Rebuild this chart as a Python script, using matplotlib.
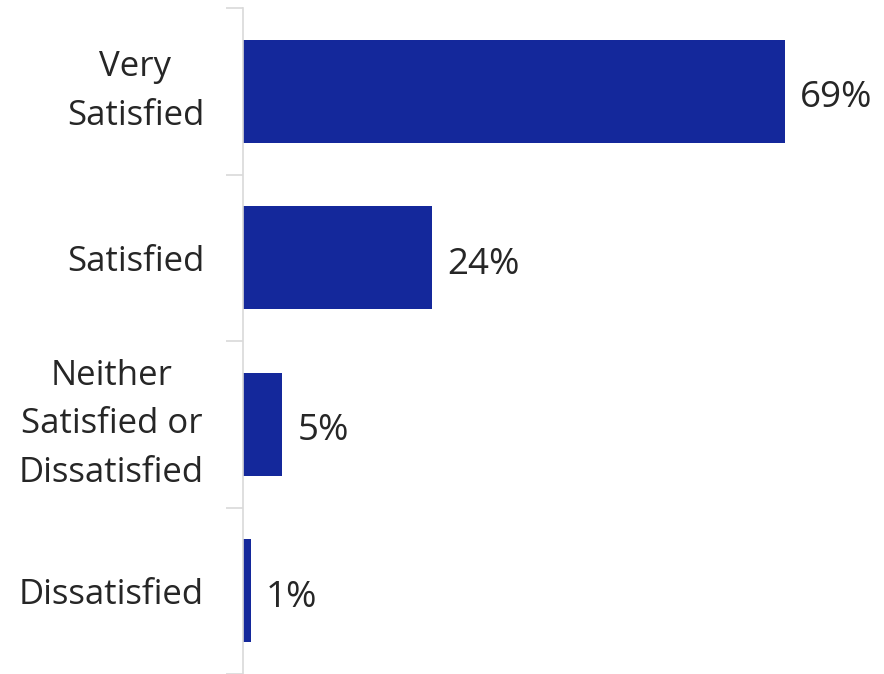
import matplotlib.pyplot as plt
import numpy as np

categories = ["Very\nSatisfied", "Satisfied", "Neither\nSatisfied or\nDissatisfied", "Dissatisfied"]
values = [69, 24, 5, 1]

bar_color = "#14289B"
text_color = "#262626"
grid_color = "#d9d9d9"

plt.rcParams["font.family"] = ["Open Sans", "DejaVu Sans"]

fig = plt.figure(figsize=(8.84, 6.74), dpi=100)
ax = fig.add_axes([243 / 884, 0, (884 - 243) / 884, (674 - 8) / 674])

y = np.arange(len(categories))
ax.barh(y, values, height=0.62, color=bar_color)

for yi, v in zip(y, values):
    ax.annotate(f"{v}%", (v, yi), xytext=(11, -5), textcoords="offset points",
                va="center", ha="left", fontsize=26.5, color=text_color)

ax.set_xlim(0, 81.6)
ax.set_ylim(len(categories) - 0.5, -0.5)
ax.set_xticks([])
ax.set_yticks(y)
ax.set_yticklabels(categories, fontsize=25, color=text_color, linespacing=1.56,
                   ha="right", multialignment="center")
for lab in ax.get_yticklabels():
    if "\n" in lab.get_text():
        lab.set_va("center")
ax.tick_params(axis="y", which="major", length=0, pad=28)
ax.set_yticks(np.arange(-0.5, len(categories), 1.0), minor=True)
ax.tick_params(axis="y", which="minor", length=12, color=grid_color, width=1.2)

for s in ["top", "right", "bottom"]:
    ax.spines[s].set_visible(False)
ax.spines["left"].set_color(grid_color)
ax.spines["left"].set_linewidth(1.2)

fig.savefig("out.png", dpi=100)
